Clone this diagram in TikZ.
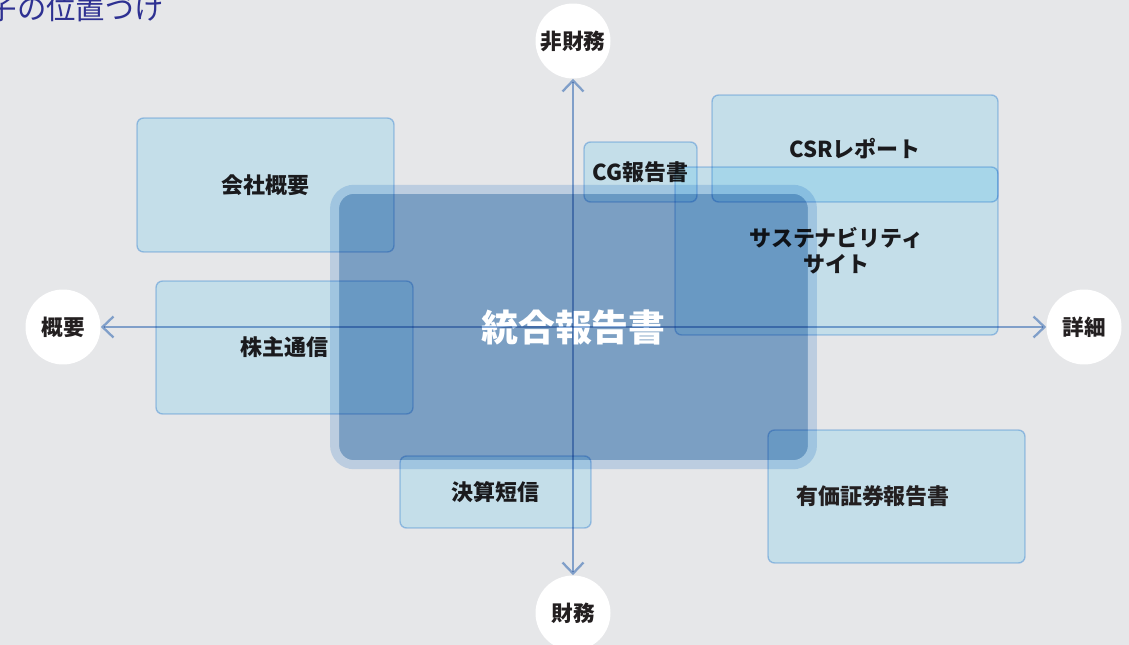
\documentclass[tikz,border=0pt]{standalone}
\usepackage{fontspec}
\setmainfont{Noto Sans CJK JP}
\usepackage{xcolor}
\usepackage{tikz}
\usetikzlibrary{arrows.meta}
\definecolor{canvas}{HTML}{E6E7E9}
\definecolor{titleblue}{HTML}{2E3192}
\definecolor{paleblue}{HTML}{DAF6FF}
\definecolor{paleedge}{HTML}{ACD0F4}
\definecolor{coreblue}{HTML}{7B9FC3}
\definecolor{corehalo}{HTML}{BCCDE0}
\definecolor{axisblue}{HTML}{8EB0DC}
\definecolor{ink}{HTML}{231F20}

\begin{document}
\begin{tikzpicture}[
  x=0.02cm, y=-0.02cm,
  doc/.style={draw=paleedge, line width=0.8pt, fill=paleblue, rounded corners=0.13cm,
              blend mode=multiply, text=ink, align=center, inner sep=0pt,
              font=\fontsize{12.5}{15}\selectfont\bfseries},
  doctext/.style={text=ink, font=\fontsize{12.5}{15}\selectfont\bfseries},
  core/.style={draw=corehalo, line width=0.18cm, fill=coreblue, rounded corners=0.39cm,
               text=white, minimum width=9.56cm, minimum height=5.51cm,
               font=\fontsize{21}{24}\selectfont\bfseries},
  pole/.style={circle, fill=white, minimum size=1.5cm, inner sep=0pt, text=ink,
               font=\fontsize{12.3}{14}\selectfont\bfseries},
  axis/.style={{Straight Barb[length=0.22cm,width=0.42cm]}-{Straight Barb[length=0.22cm,width=0.42cm]},
               line width=1.3pt, draw=axisblue, blend mode=multiply}
]
  \fill[canvas] (0,0) rectangle (1129,645);
  \useasboundingbox (0,0) rectangle (1129,645);

  \node[anchor=west, inner sep=0pt, text=titleblue, font=\fontsize{16.7}{17}\selectfont]
    (title) at (-12.4,8) {子の位置づけ};

  % 中央
  \node[core] (togo) at (573.5,327) {統合報告書};

  % 軸
  \node[pole] (hizaimu) at (573,41) {非財務};
  \node[pole] (zaimu) at (573,613) {財務};
  \node[pole] (gaiyo) at (63,327) {概要};
  \node[pole] (shosai) at (1084,327) {詳細};
  \draw[axis] (gaiyo) -- (shosai);
  \draw[axis] (zaimu) -- (hizaimu);

  % 各冊子
  \node[doc, minimum width=5.14cm, minimum height=2.68cm] (kaisha) at (265.5,185) {会社概要};
  \node[doc, minimum width=5.14cm, minimum height=2.66cm] (kabunushi) at (284.5,347.5) {株主通信};
  \node[doc, minimum width=3.82cm, minimum height=1.44cm] (kessan) at (495.5,492) {決算短信};
  \node[doc, minimum width=5.72cm, minimum height=2.14cm] (csr) at (855,148.5) {CSRレポート};
  \node[doc, minimum width=6.46cm, minimum height=3.36cm] (sustain) at (836.5,251)
    {サステナビリティ\\サイト};
  \node[doc, minimum width=2.26cm, minimum height=1.2cm] (cg) at (640.5,172) {CG報告書};
  \node[doc, minimum width=5.14cm, minimum height=2.66cm,
        label={[doctext, xshift=-0.47cm]center:有価証券報告書}] (yuka) at (896.5,496.5) {};
\end{tikzpicture}
\end{document}
